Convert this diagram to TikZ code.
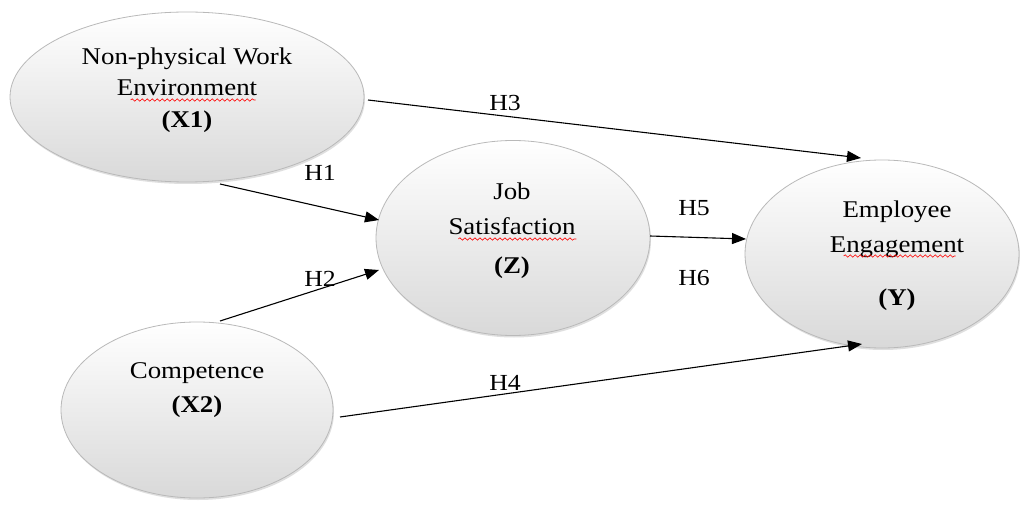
\documentclass[tikz,border=0pt]{standalone}
\usepackage{fontspec}
\setmainfont[FakeStretch=1.12]{Liberation Serif}
\usetikzlibrary{arrows.meta,shapes.geometric,shadows,decorations.pathmorphing}
\begin{document}
\begin{tikzpicture}[x=1pt,y=-1pt,
  var/.style={ellipse,draw=gray!55,line width=0.8pt,top color=white,bottom color=gray!30,
    inner sep=0pt,drop shadow={shadow xshift=1pt,shadow yshift=-2pt,opacity=0.25}},
  txt/.style={font=\fontsize{24}{26}\selectfont,inner sep=0pt,anchor=base},
  hl/.style={font=\fontsize{23}{25}\selectfont,inner sep=0pt,anchor=base},
  link/.style={line width=1.1pt,-{Triangle[length=14pt,width=11pt]}},
  spell/.style={red,line width=0.6pt,decorate,decoration={snake,amplitude=1.2pt,segment length=5pt}}]
\useasboundingbox (0,0) rectangle (1020,505);
\fill[white] (0,0) rectangle (1020,505);
% ellipses
\node[var,minimum width=354,minimum height=170] (X1) at (187,97) {};
\node[var,minimum width=274,minimum height=195] (Z) at (513,238) {};
\node[var,minimum width=274,minimum height=188] (Y) at (882,254) {};
\node[var,minimum width=272,minimum height=176] (X2) at (197,410) {};
% texts
\node[txt] (t1a) at (187,65) {Non-physical Work};
\node[txt] (t1b) at (187,96) {Environment};
\node[txt] (t1c) at (187,128) {\textbf{(X1)}};
\node[txt] (tza) at (512,200) {Job};
\node[txt] (tzb) at (512,235) {Satisfaction};
\node[txt] (tzc) at (512,273) {\textbf{(Z)}};
\node[txt] (tya) at (897,218) {Employee};
\node[txt] (tyb) at (897,252) {Engagement};
\node[txt] (tyc) at (897,305) {\textbf{(Y)}};
\node[txt] (txa) at (197,378) {Competence};
\node[txt] (txb) at (197,412) {\textbf{(X2)}};
% spell-check marks
\draw[spell] (t1b.base west) ++(14,4) -- ++(125,0);
\draw[spell] (tzb.base west) ++(10,4) -- ++(118,0);
\draw[spell] (tyb.base west) ++(14,4) -- ++(112,0);
% connectors
\coordinate (h3s) at (368,100);
\coordinate (h3e) at (861,158);
\coordinate (h1s) at (220,184);
\coordinate (h1e) at (379,220);
\coordinate (h2s) at (220,321);
\coordinate (h2e) at (379,270);
\coordinate (h5s) at (650,236);
\coordinate (h5e) at (746,239);
\coordinate (h4s) at (340,417);
\coordinate (h4e) at (862,344);
\draw[link] (h3s) -- (h3e);
\draw[link] (h1s) -- (h1e);
\draw[link] (h2s) -- (h2e);
\draw[link] (h5s) -- (h5e);
\draw[link] (h4s) -- (h4e);
% labels
\node[hl] (l3) at (505,111) {H3};
\node[hl] (l1) at (320,181) {H1};
\node[hl] (l2) at (320,286) {H2};
\node[hl] (l5) at (694,216) {H5};
\node[hl] (l6) at (694,285) {H6};
\node[hl] (l4) at (505,390) {H4};
\end{tikzpicture}
\end{document}
